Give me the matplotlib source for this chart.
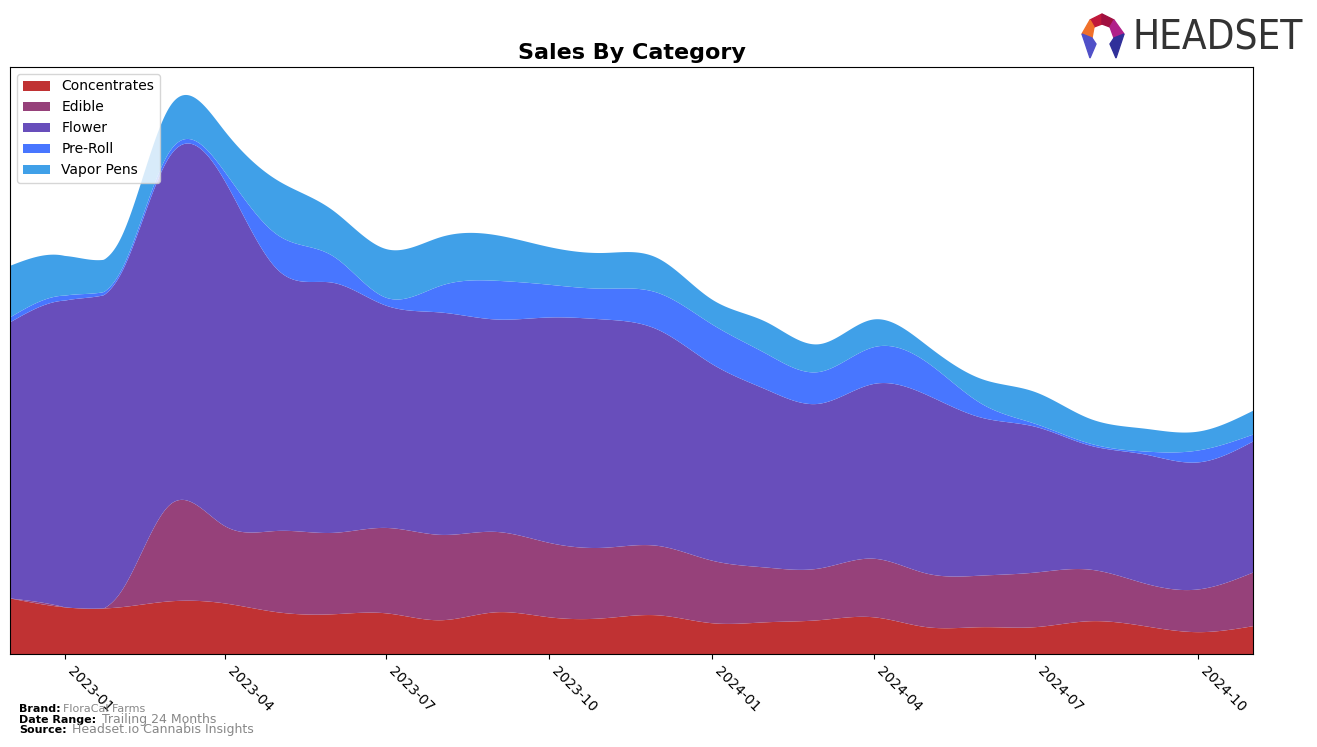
import numpy as np
import pandas as pd
import matplotlib
matplotlib.use("Agg")
import matplotlib.pyplot as plt
import matplotlib.dates as mdates
from matplotlib.patches import Polygon

# ---------------- data ----------------
months = pd.date_range("2022-12-01", periods=24, freq="MS")
categories = ["Concentrates", "Edible", "Flower", "Pre-Roll", "Vapor Pens"]
concentrates = [56, 47, 47, 53, 51, 42, 40, 41, 34, 42, 37, 36, 39, 31, 32, 34, 37, 27, 27, 27, 33, 28, 22, 28]
edible = [0, 0, 14, 97, 78, 82, 82, 86, 86, 81, 75, 71, 70, 63, 55, 52, 59, 54, 52, 55, 52, 43, 43, 54]
flower = [278, 309, 320, 351, 348, 263, 252, 224, 224, 214, 227, 230, 218, 198, 179, 166, 176, 180, 159, 147, 125, 130, 128, 132]
pre_roll = [5, 5, 3, 5, 9, 35, 27, 8, 27, 39, 33, 31, 37, 40, 36, 32, 37, 33, 14, 3, 2, 3, 12, 7]
vapor_pens = [52, 40, 33, 45, 41, 55, 46, 49, 49, 46, 38, 36, 35, 25, 32, 28, 28, 17, 25, 32, 25, 23, 19, 24]
colors = ["#C03233", "#96417A", "#684EBB", "#4876FF", "#40A0E8"]
tick_months = ["2023-01", "2023-04", "2023-07", "2023-10", "2024-01", "2024-04", "2024-07", "2024-10"]


def cubic_spline(x, y, xs):
    """Natural cubic spline, used only to render the monthly series smoothly."""
    x = np.asarray(x, float)
    y = np.asarray(y, float)
    n = len(x)
    h = np.diff(x)
    A = np.zeros((n, n))
    b = np.zeros(n)
    A[0, 0] = 1.0
    A[n - 1, n - 1] = 1.0
    for i in range(1, n - 1):
        A[i, i - 1] = h[i - 1]
        A[i, i] = 2 * (h[i - 1] + h[i])
        A[i, i + 1] = h[i]
        b[i] = 6 * ((y[i + 1] - y[i]) / h[i] - (y[i] - y[i - 1]) / h[i - 1])
    M = np.linalg.solve(A, b)
    idx = np.clip(np.searchsorted(x, xs) - 1, 0, n - 2)
    x0, x1 = x[idx], x[idx + 1]
    hh = x1 - x0
    return (M[idx] * (x1 - xs) ** 3 / (6 * hh) + M[idx + 1] * (xs - x0) ** 3 / (6 * hh)
            + (y[idx] / hh - M[idx] * hh / 6) * (x1 - xs)
            + (y[idx + 1] / hh - M[idx + 1] * hh / 6) * (xs - x0))


xnum = mdates.date2num(months.to_pydatetime())
xs = np.linspace(xnum[0], xnum[-1], 800)
series = [concentrates, edible, flower, pre_roll, vapor_pens]
smooth = [np.clip(cubic_spline(xnum, s, xs), 0, None) for s in series]

fig = plt.figure(figsize=(13.17, 7.47), dpi=100)
ax = fig.add_axes([10 / 1317, 1 - 654 / 747, (1253 - 10) / 1317, (654 - 67) / 747])

ax.stackplot(xs, *smooth, labels=categories, colors=colors)
total = np.sum(smooth, axis=0)
ax.set_xlim(xnum[0], xnum[-1])
ax.set_ylim(0, total.max() * 1.05)
ax.set_yticks([])

ticks = mdates.date2num(pd.to_datetime(tick_months).to_pydatetime())
ax.set_xticks(ticks)
ax.set_xticklabels(tick_months)
plt.setp(ax.get_xticklabels(), rotation=-45, ha="left", fontsize=10)

ax.set_title("Sales By Category", fontsize=16, fontweight="bold", pad=6)
ax.legend(loc="upper left", fontsize=10, framealpha=0.8)

# footer
fig.text(19 / 1317, 1 - 709 / 747, "Brand:", fontsize=8, fontweight="bold", va="center")
fig.text(63 / 1317, 1 - 709 / 747, "FloraCal Farms", fontsize=8, color="#888888", va="center")
fig.text(19 / 1317, 1 - 720 / 747, "Date Range:", fontsize=8, fontweight="bold", va="center")
fig.text(102 / 1317, 1 - 720 / 747, "Trailing 24 Months", fontsize=9, color="#888888", va="center")
fig.text(19 / 1317, 1 - 730 / 747, "Source:", fontsize=8, fontweight="bold", va="center")
fig.text(72 / 1317, 1 - 730 / 747, "Headset.io Cannabis Insights", fontsize=9, color="#888888", va="center")

# logo
fig.text(1133 / 1317, 1 - 39 / 747, "HEADSET", fontsize=29, color="#333333", va="center", ha="left",
         family=["Liberation Sans Narrow", "DejaVu Sans"], fontstretch="condensed")
lax = fig.add_axes([1078 / 1317, 1 - 62 / 747, 50 / 1317, 50 / 747])
lax.set_xlim(0, 50)
lax.set_ylim(0, 50)
lax.axis("off")
polys = [
    ([(12, 42), (24, 48), (24, 38), (16, 35)], "#C0183A"),
    ([(24, 48), (36, 42), (32, 35), (24, 38)], "#A01040"),
    ([(12, 42), (16, 35), (14, 24), (4, 28)], "#F0702A"),
    ([(36, 42), (46, 28), (36, 24), (32, 35)], "#B0208A"),
    ([(4, 28), (14, 24), (18, 18), (12, 4)], "#5050C8"),
    ([(46, 28), (36, 24), (32, 18), (38, 4)], "#30309A"),
]
for pts, c in polys:
    lax.add_patch(Polygon(pts, closed=True, color=c))

fig.savefig("out.png", dpi=100)
